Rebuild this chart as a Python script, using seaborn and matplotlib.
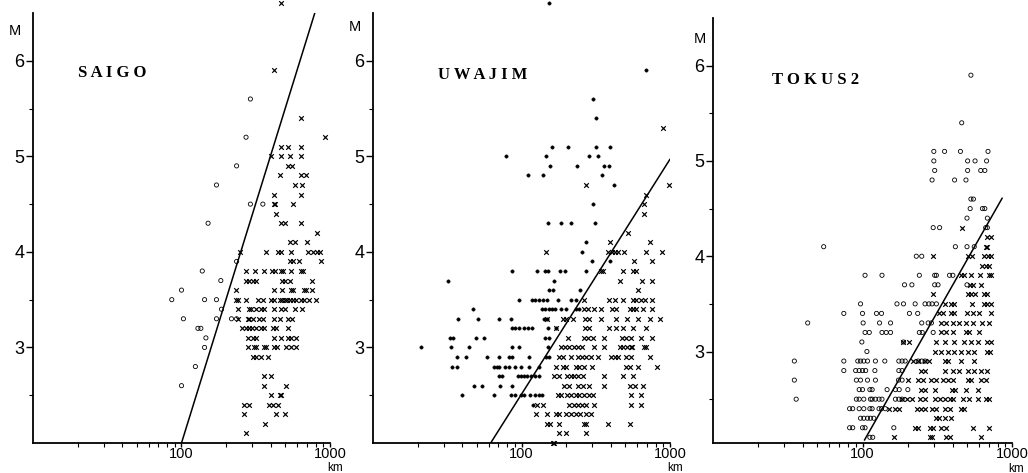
import matplotlib
matplotlib.use("Agg")
import matplotlib.pyplot as plt
from matplotlib.ticker import FixedLocator, NullFormatter, FixedFormatter
from matplotlib import font_manager
import seaborn as sns
import pandas as pd

# ---------------- data: (magnitude M, [epicentral distances in km]) ----------------
saigo_o = [
    (5.6, [291]), (5.2, [272]), (4.9, [235]), (4.7, [172]), (4.5, [291, 353]),
    (4.3, [151]), (3.9, [235]), (3.8, [138]), (3.7, [184]), (3.6, [100]),
    (3.5, [86, 143, 172]), (3.4, [186]), (3.3, [103, 172, 217, 235]),
    (3.2, [129, 135]), (3.1, [146]), (3.0, [143]), (2.8, [124]), (2.6, [100]),
]
saigo_x = [
    (6.6, [470]), (5.9, [418]), (5.4, [642]), (5.2, [925]),
    (5.1, [470, 522, 642]), (5.0, [402, 470, 535, 642]), (4.9, [522, 556]),
    (4.8, [458, 642, 694]), (4.7, [579, 649]), (4.6, [418, 642]),
    (4.5, [418, 423, 564]), (4.4, [432]), (4.3, [470, 495, 642]), (4.2, [812]),
    (4.1, [535, 579, 700]),
    (4.0, [248, 372, 446, 470, 549, 713, 771, 812, 855]),
    (3.9, [535, 564, 620, 870]),
    (3.8, [272, 315, 362, 408, 423, 470, 482, 549, 642, 659]),
    (3.7, [272, 283, 305, 318, 476, 495, 535, 751]),
    (3.6, [233, 418, 476, 549, 564, 672, 694, 751]),
    (3.5, [233, 239, 272, 326, 353, 402, 418, 458, 476, 495, 515, 535, 564, 586,
           642, 668, 722, 800]),
    (3.4, [240, 286, 294, 318, 344, 362, 418, 470, 495, 579, 649]),
    (3.3, [240, 279, 286, 302, 335, 353, 418, 458, 522, 556]),
    (3.2, [256, 272, 286, 298, 318, 344, 362, 412, 435, 522]),
    (3.1, [279, 302, 318, 418, 470, 522, 549, 594]),
    (3.0, [279, 306, 318, 357, 372, 420, 440, 508, 549, 594]),
    (2.9, [302, 318, 344, 383]), (2.7, [362, 402]), (2.6, [362, 508]),
    (2.5, [402, 458, 470]), (2.4, [265, 286, 386, 412, 446]),
    (2.3, [265, 435, 500]), (2.2, [366]), (2.1, [272]),
]
saigo_line_km = [100, 790]
saigo_line_m = [2.0, 6.5]

uwajim_dot = [
    (6.6, [153]),
    (5.9, [694]), (5.6, [302]), (5.4, [318]), (5.1, [160, 205, 318, 392]),
    (5.0, [79, 147, 286, 326]), (4.9, [156, 236, 362, 390]), (4.8, [110, 140, 348]),
    (4.7, [418]), (4.5, [302]), (4.3, [151, 184, 215, 313]), (4.1, [272]),
    (4.0, [255]), (3.9, [300, 396]), (3.8, [86, 128, 143, 151, 182, 197, 270]),
    (3.7, [32, 166]), (3.6, [153, 162, 246]),
    (3.5, [96, 118, 124, 131, 140, 149, 175, 215, 233]),
    (3.4, [47, 137, 144, 152, 160, 168, 184, 199, 233, 245]),
    (3.3, [37.5, 51, 71, 85, 142, 148]),
    (3.2, [86, 91, 96, 104, 111, 118, 150, 172]),
    (3.1, [33, 34.5, 49.5, 56, 143, 153]),
    (3.0, [21, 33.3, 44, 86, 96, 151]),
    (2.9, [36.6, 42, 59, 71, 82, 86, 112, 146, 153]),
    (2.8, [34, 37, 65, 68, 71, 78, 82, 91, 99, 112, 131]),
    (2.7, [71, 74, 94, 99, 104, 109, 115, 124, 131]),
    (2.6, [48, 54, 72, 86]),
    (2.5, [39.5, 65, 85, 91, 99, 104, 114, 123, 131, 138]),
    (2.4, [119]),
]
uwajim_x = [
    (5.3, [900]), (4.7, [272, 985]), (4.6, [694]), (4.5, [669]), (4.4, [669]),
    (4.2, [524]), (4.1, [396, 730]),
    (4.0, [146, 381, 404, 423, 446, 488, 694, 890]),
    (3.9, [570, 755]), (3.8, [344, 353, 482, 564, 594]), (3.7, [458, 650, 755]),
    (3.6, [610]),
    (3.5, [265, 386, 425, 482, 560, 594, 642, 677, 751]),
    (3.4, [265, 279, 310, 344, 406, 433, 541, 564, 594, 659, 751]),
    (3.3, [149, 189, 199, 221, 267, 286, 344, 433, 515, 610, 732, 855]),
    (3.2, [170, 267, 286, 390, 435, 482, 564, 694]),
    (3.1, [206, 265, 279, 302, 360, 476, 505, 549, 642, 751]),
    (3.0, [184, 197, 210, 227, 239, 256, 306, 362, 458, 482, 515, 549, 557, 666, 694]),
    (2.9, [179, 189, 215, 239, 256, 272, 292, 330, 402, 423, 446, 505, 549, 732]),
    (2.8, [172, 189, 199, 233, 245, 265, 298, 505, 535, 610, 812]),
    (2.7, [166, 179, 204, 215, 227, 242, 260, 362, 482, 564]),
    (2.6, [194, 210, 239, 258, 286, 362, 535, 579, 659]),
    (2.5, [175, 184, 204, 215, 233, 245, 265, 286, 302, 549, 642]),
    (2.4, [127, 140, 210, 227, 242, 256, 272, 310, 549, 642]),
    (2.3, [125, 149, 170, 179, 199, 215, 233, 248, 272, 294]),
    (2.2, [148, 156, 179, 265, 272, 381, 535]),
    (2.1, [179, 199, 272]),
    (2.0, [162, 166]),
]
uwajim_line_km = [62, 1000]
uwajim_line_m = [2.0, 4.97]

tokus2_o = [
    (5.9, [531]), (5.4, [461]), (5.1, [300, 354, 452, 691]),
    (5.0, [300, 505, 566, 676]), (4.9, [304, 505, 618, 658]), (4.8, [292, 413, 492]),
    (4.6, [531, 552]), (4.5, [525, 634, 658]), (4.4, [500, 684]),
    (4.3, [297, 328, 667, 684]), (4.1, [55, 418, 500, 559]), (4.0, [229, 249]),
    (3.8, [104, 135, 240, 304, 312, 382, 402]),
    (3.7, [191, 214, 304, 320, 500]),
    (3.5, [97, 170, 188, 225, 262, 278, 292, 312]),
    (3.4, [75, 100, 124, 134, 206, 234]),
    (3.3, [43, 101, 130, 154, 249, 275, 289]),
    (3.2, [104, 111, 135, 144, 154, 240, 251, 297]),
    (3.1, [99, 188]), (3.0, [107]),
    (2.9, [35, 75, 93, 97, 102, 108, 122, 141, 175, 184, 193, 236, 249, 262]),
    (2.8, [75, 90, 95, 100, 105, 121, 175, 184]),
    (2.7, [35, 91, 97, 108, 122, 174, 184]),
    (2.6, [95, 100, 112, 116, 146, 166, 176, 201]),
    (2.5, [36, 91, 95, 102, 113, 116, 122, 129, 135, 166, 175, 184]),
    (2.4, [82, 86, 95, 102, 112, 116, 129, 134, 142]),
    (2.3, [97, 102, 108, 113, 119]),
    (2.2, [82, 86, 100, 104, 162]),
    (2.1, [112, 117]),
]
tokus2_x = [
    (4.3, [461]), (4.2, [684, 720]), (4.1, [667, 684]),
    (4.0, [297, 505, 538, 650, 691, 720]), (3.9, [634, 667, 702]),
    (3.8, [456, 475, 531, 611, 702, 727]), (3.7, [525, 545, 618]),
    (3.6, [297, 505, 531, 562, 650, 684]),
    (3.5, [354, 392, 412, 538, 650, 684, 720]),
    (3.4, [324, 346, 392, 412, 500, 545, 603, 720]),
    (3.3, [337, 363, 402, 445, 492, 545, 634, 702]),
    (3.2, [337, 363, 402, 492, 518, 603]),
    (3.1, [188, 206, 308, 354, 412, 480, 531, 588, 684, 720]),
    (3.0, [304, 333, 372, 412, 456, 505, 559, 684, 713]),
    (2.9, [219, 236, 262, 278, 354, 372, 456, 559]),
    (2.8, [245, 262, 354, 402, 445, 505, 559, 618, 676]),
    (2.7, [203, 236, 255, 289, 308, 345, 372, 402, 505, 531, 618, 667]),
    (2.6, [245, 262, 304, 397, 418, 492, 588]),
    (2.5, [184, 198, 214, 242, 262, 304, 328, 354, 382, 402, 468, 512, 588, 667, 702]),
    (2.4, [150, 166, 175, 230, 245, 262, 292, 308, 354, 382, 456, 480]),
    (2.3, [312, 324, 354, 392]),
    (2.2, [225, 236, 282, 297, 337, 363, 545, 702]),
    (2.1, [162, 282, 292, 363, 382, 618]),
]
tokus2_line_km = [103, 860]
tokus2_line_m = [2.07, 4.61]

station_names = ["S A I G O", "U W A J I M", "T O K U S 2"]
major_x = [100, 1000]
major_x_labels = ["100", "1000"]
minor_x = [20, 30, 40, 50, 60, 70, 80, 90, 200, 300, 400, 500, 600, 700, 800, 900]
major_y = [3, 4, 5, 6]
minor_y = [2.5, 3.5, 4.5, 5.5]


def expand(rows):
    return pd.DataFrame([(d, m) for m, ds in rows for d in ds], columns=["dist", "mag"])


sns.set_style("white")
installed = {f.name for f in font_manager.fontManager.ttflist}
sans = ["Liberation Sans Narrow"] if "Liberation Sans Narrow" in installed else []
plt.rcParams["font.family"] = sans + ["Liberation Sans", "DejaVu Sans"]

W, H = 1028, 473
fig = plt.figure(figsize=(W / 100, H / 100), dpi=100)

# axes rectangles in pixels: left, bottom(from top), right, top(from top)
rects = [(33, 443, 330, 13), (373, 443, 670, 13), (713, 443, 1012, 18)]
ylims = [(2.0, 6.5), (2.0, 6.5), (2.04, 6.5)]
title_pos = [(0.152, 0.860), (0.219, 0.856), (0.197, 0.854)]
m_pos = [(-0.062, 0.958), (-0.062, 0.967), (-0.045, 0.95)]
km_pos = [(1.018, -0.057), (1.018, -0.057), (1.015, -0.060)]

panels = [
    (saigo_o, "open", saigo_x, saigo_line_km, saigo_line_m),
    (uwajim_dot, "dot", uwajim_x, uwajim_line_km, uwajim_line_m),
    (tokus2_o, "open", tokus2_x, tokus2_line_km, tokus2_line_m),
]

for i, (left_rows, left_kind, x_rows, lkm, lm) in enumerate(panels):
    l, b, r, t = rects[i]
    ax = fig.add_axes([l / W, (H - b) / H, (r - l) / W, (b - t) / H])
    ax.set_xscale("log")
    df_left = expand(left_rows)
    df_x = expand(x_rows)
    if left_kind == "open":
        sns.scatterplot(data=df_left, x="dist", y="mag", ax=ax, marker="o", s=9,
                        facecolor="none", edgecolor="black", linewidth=0.6,
                        legend=False, clip_on=False)
    else:
        sns.scatterplot(data=df_left, x="dist", y="mag", ax=ax, marker="o", s=6,
                        color="black", edgecolor="black", linewidth=0.3,
                        legend=False, clip_on=False)
    sns.scatterplot(data=df_x, x="dist", y="mag", ax=ax, marker="x", s=11,
                    color="black", linewidth=0.85, legend=False, clip_on=False)
    line_df = pd.DataFrame({"dist": lkm, "mag": lm})
    sns.lineplot(data=line_df, x="dist", y="mag", ax=ax, color="black", linewidth=1.1,
                 estimator=None, sort=False)

    ax.set_xlim(10, 1000)
    ax.set_ylim(*ylims[i])
    for s in ["top", "right"]:
        ax.spines[s].set_visible(False)
    for s in ["left", "bottom"]:
        ax.spines[s].set_color("black")
        ax.spines[s].set_linewidth(1.3)
    ax.xaxis.set_major_locator(FixedLocator(major_x))
    ax.xaxis.set_major_formatter(FixedFormatter(major_x_labels))
    ax.xaxis.set_minor_locator(FixedLocator(minor_x))
    ax.xaxis.set_minor_formatter(NullFormatter())
    ax.yaxis.set_major_locator(FixedLocator(major_y))
    ax.yaxis.set_minor_locator(FixedLocator(minor_y))
    ax.tick_params(axis="y", which="major", direction="out", length=5, width=1,
                   color="black", labelsize=13, labelcolor="black", pad=1)
    ax.tick_params(axis="x", which="major", direction="out", length=3, width=1,
                   color="black", labelsize=10.5, labelcolor="black", pad=0)
    ax.tick_params(axis="both", which="minor", direction="out", length=3, width=0.8,
                   color="black")
    ax.tick_params(axis="x", which="both", bottom=True)
    ax.tick_params(axis="y", which="both", left=True)
    ax.set_xlabel("")
    ax.set_ylabel("")
    ax.grid(False)
    ax.patch.set_alpha(0)

    ax.text(title_pos[i][0], title_pos[i][1], station_names[i], transform=ax.transAxes,
            family=["Liberation Serif", "DejaVu Serif"], fontsize=12, fontweight="bold",
            va="center", ha="left", color="black")
    ax.text(m_pos[i][0], m_pos[i][1], "M", transform=ax.transAxes, fontsize=10.5,
            va="center", ha="center", color="black")
    ax.text(km_pos[i][0], km_pos[i][1], "km", transform=ax.transAxes, fontsize=8.5,
            va="center", ha="center", color="black")

fig.savefig("out.png", dpi=100, facecolor="white")
